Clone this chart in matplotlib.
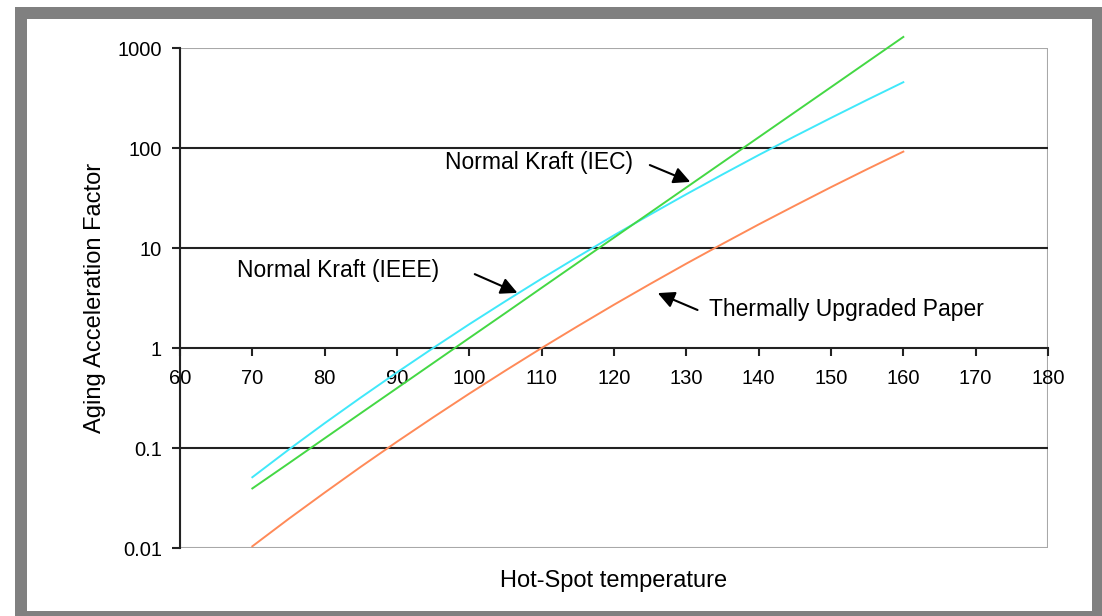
import numpy as np
import matplotlib
matplotlib.use('Agg')
from matplotlib import pyplot as plt
from matplotlib.patches import Rectangle

plt.rcParams['font.family'] = ['Liberation Sans', 'DejaVu Sans']

# hot-spot temperature (deg C) and aging acceleration factors
temps = [70, 75, 80, 85, 90, 95, 100, 105, 110, 115, 120, 125, 130, 135, 140, 145, 150, 155, 160]
kraft_ieee = [0.051, 0.096, 0.177, 0.32, 0.57, 1.0, 1.73, 2.94, 4.94, 8.18, 13.4, 21.6, 34.5,
              54.4, 85, 131, 200, 303, 455]
kraft_iec = [0.0394, 0.070, 0.125, 0.223, 0.397, 0.707, 1.26, 2.24, 4.0, 7.13, 12.7, 22.6, 40.3,
             71.8, 128, 228, 406, 724, 1290]
upgraded = [0.0104, 0.0195, 0.0358, 0.0649, 0.1156, 0.2025, 0.350, 0.595, 1.0, 1.655, 2.71,
            4.37, 6.98, 11.0, 17.2, 26.5, 40.6, 61.4, 92.0]

xticks = [60, 70, 80, 90, 100, 110, 120, 130, 140, 150, 160, 170, 180]
yticks = [0.01, 0.1, 1, 10, 100, 1000]
ylabels = ['0.01', '0.1', '1', '10', '100', '1000']

W, H = 1102, 616
fig = plt.figure(figsize=(W / 100, H / 100), dpi=100)

# grey frame round the chart
fig.patches.append(Rectangle((15 / W, 0), 1, 1 - 7 / H, transform=fig.transFigure,
                             facecolor='#808080', edgecolor='none', zorder=-10))
fig.patches.append(Rectangle((27 / W, 5 / H), (1092 - 27) / W, (611 - 19) / H,
                             transform=fig.transFigure, facecolor='white',
                             edgecolor='none', zorder=-9))

ax = fig.add_axes([180 / W, 68 / H, 868 / W, 500 / H])
ax.set_facecolor('none')
ax.set_yscale('log')
ax.set_xlim(60, 180)
ax.set_ylim(0.01, 1000)

ax.plot(temps, kraft_ieee, color='#40E8FA', lw=1.4, clip_on=False, zorder=3)
ax.plot(temps, kraft_iec, color='#44D844', lw=1.4, clip_on=False, zorder=3)
ax.plot(temps, upgraded, color='#FF8A58', lw=1.4, clip_on=False, zorder=3)

# decade gridlines
for yv in [0.1, 10, 100]:
    ax.axhline(yv, color='#222222', lw=1.5, zorder=1)

# light frame on top, right, bottom
ax.add_patch(Rectangle((0, 0), 1, 1, transform=ax.transAxes, fill=False,
                       edgecolor='#a8a8a8', lw=1.5, zorder=0.5))
ax.spines['top'].set_visible(False)
ax.spines['right'].set_visible(False)
ax.spines['left'].set_color('#222222')
ax.spines['left'].set_linewidth(1.5)
ax.spines['bottom'].set_position(('data', 1))
ax.spines['bottom'].set_color('#222222')
ax.spines['bottom'].set_linewidth(1.5)

ax.set_xticks(xticks)
ax.set_yticks(yticks)
ax.set_yticklabels(ylabels)
ax.yaxis.set_minor_locator(matplotlib.ticker.NullLocator())
ax.tick_params(axis='both', direction='out', length=6, width=1.5, color='#222222',
               labelsize=14.5)
ax.tick_params(axis='x', pad=9)
ax.tick_params(axis='y', pad=7)

ax.set_xlabel('Hot-Spot temperature', fontsize=17)
ax.xaxis.set_label_coords(0.5, -0.045)
ax.set_ylabel('Aging Acceleration Factor', fontsize=17)
ax.yaxis.set_label_coords(-0.085, 0.5)

arrow = dict(arrowstyle='-|>', color='black', lw=1.5, mutation_scale=25)
ax.text(96.6, 72.4, 'Normal Kraft (IEC)', fontsize=16.5, ha='left', va='center')
ax.annotate('', xy=(130.9, 44.7), xytext=(124.6, 69.2), arrowprops=arrow)
ax.text(67.9, 5.89, 'Normal Kraft (IEEE)', fontsize=16.5, ha='left', va='center')
ax.annotate('', xy=(107.0, 3.47), xytext=(100.4, 5.62), arrowprops=arrow)
ax.text(133.1, 2.40, 'Thermally Upgraded Paper', fontsize=16.5, ha='left', va='center')
ax.annotate('', xy=(125.7, 3.63), xytext=(131.9, 2.34), arrowprops=arrow)

fig.savefig('out.png', dpi=100)
